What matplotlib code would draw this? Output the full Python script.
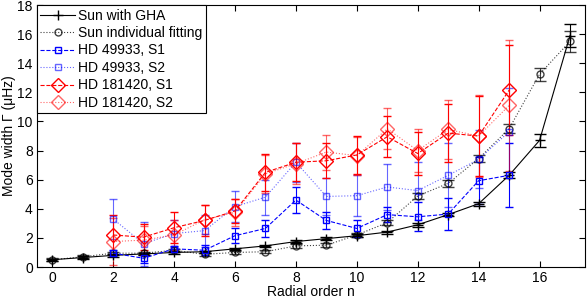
import numpy as np
import matplotlib
matplotlib.use("Agg")
import matplotlib.pyplot as plt

plt.rcParams['font.family'] = ['Liberation Sans', 'DejaVu Sans']
plt.rcParams['font.size'] = 10

# Sun, global helioseismic analysis (n = 0..17)
n_sun = np.arange(0, 18)
sun_gha = [0.5, 0.65, 0.8, 0.9, 1.0, 1.05, 1.25, 1.45, 1.75, 1.95,
           2.15, 2.4, 2.9, 3.6, 4.35, 6.3, 8.7, 15.9]
sun_gha_err = [0.08, 0.08, 0.08, 0.08, 0.08, 0.08, 0.08, 0.08, 0.1, 0.1,
               0.1, 0.1, 0.12, 0.12, 0.15, 0.2, 0.45, 0.8]
# Sun, individual fitting
sun_ind = [0.5, 0.7, 0.95, 0.95, 1.15, 0.87, 1.0, 1.05, 1.45, 1.5,
           2.2, 3.05, 4.88, 5.75, 7.45, 9.5, 13.25, 15.5]
sun_ind_err = [0.1, 0.1, 0.1, 0.1, 0.1, 0.1, 0.1, 0.1, 0.12, 0.12,
               0.12, 0.15, 0.2, 0.22, 0.25, 0.3, 0.45, 0.7]

# stars (n = 2..15)
n_star = np.arange(2, 16)
hd49933_s1 = [0.95, 0.6, 1.25, 1.15, 2.15, 2.65, 4.6, 3.2, 2.65, 3.6, 3.45, 3.64, 5.93, 6.3]
hd49933_s1_err = [0.2, 0.35, 0.2, 0.35, 0.5, 0.6, 0.9, 0.6, 0.6, 0.5, 1.0, 1.1, 1.6, 2.2]
hd49933_s2 = [3.3, 1.6, 2.3, 2.5, 4.15, 4.8, 7.2, 4.85, 4.9, 5.5, 5.25, 6.3, 7.4, 9.3]
hd49933_s2_err = [1.35, 1.5, 0.9, 1.1, 1.05, 1.2, 1.35, 1.3, 1.4, 1.6, 2.0, 2.2, 2.0, 3.0]
hd181420_s1 = [2.2, 2.05, 2.7, 3.2, 3.85, 6.5, 7.2, 7.3, 7.7, 8.95, 7.8, 9.2, 9.0, 12.15]
hd181420_s1_err = [1.4, 0.9, 1.05, 1.05, 0.85, 1.25, 1.3, 1.2, 1.3, 1.4, 1.5, 2.0, 2.75, 3.1]
hd181420_s2 = [1.75, 1.85, 2.2, 3.25, 3.75, 6.4, 7.1, 7.9, 7.65, 9.5, 8.0, 9.45, 9.0, 11.1]
hd181420_s2_err = [1.6, 1.0, 1.0, 1.0, 0.9, 1.3, 1.4, 1.2, 1.3, 1.4, 1.5, 2.0, 2.8, 4.5]

fig = plt.figure(figsize=(5.87, 2.98), dpi=100)
ax = fig.add_axes([0.063, 0.104, 0.934, 0.879])

lw = 0.8
conts = []
conts.append(ax.errorbar(n_sun, sun_gha, yerr=sun_gha_err, color='k', ls='-', marker='+',
                         ms=7, lw=lw, elinewidth=lw, capsize=4.5, label='Sun with GHA'))
conts.append(ax.errorbar(n_sun, sun_ind, yerr=sun_ind_err, color='k', ls=':', marker='o',
                         ms=5, mfc='none', lw=lw, elinewidth=lw, capsize=4.5, alpha=0.75,
                         label='Sun individual fitting'))
conts.append(ax.errorbar(n_star, hd49933_s1, yerr=hd49933_s1_err, color='b', ls='--', marker='s',
                         ms=5, mfc='none', lw=lw, elinewidth=lw, capsize=3, label='HD 49933, S1'))
conts.append(ax.errorbar(n_star, hd49933_s2, yerr=hd49933_s2_err, color='b', ls=':', marker='s',
                         ms=5, mfc='none', lw=lw, elinewidth=lw, capsize=3, alpha=0.6,
                         label='HD 49933, S2'))
conts.append(ax.errorbar(n_star, hd181420_s1, yerr=hd181420_s1_err, color='r', ls='--', marker='D',
                         ms=7, mfc='none', lw=lw, elinewidth=lw, capsize=3, label='HD 181420, S1'))
conts.append(ax.errorbar(n_star, hd181420_s2, yerr=hd181420_s2_err, color='r', ls=':', marker='D',
                         ms=7, mfc='none', lw=lw, elinewidth=lw, capsize=3, alpha=0.6,
                         label='HD 181420, S2'))

ax.set_xlim(-0.5, 17.5)
ax.set_ylim(0, 18)
ax.set_xticks(np.arange(0, 17, 2))
ax.set_yticks(np.arange(0, 19, 2))
ax.tick_params(direction='in', top=True, right=True, length=4, labelsize=10, pad=3)
ax.set_xlabel('Radial order n', labelpad=0)
ax.set_ylabel('Mode width Γ (μHz)', labelpad=1)

# legend shows only line + marker, no error bars
handles = [c.lines[0] for c in conts]
labels = [c.get_label() for c in conts]
leg = ax.legend(handles, labels, loc='upper left', fancybox=False, framealpha=1,
                edgecolor='k', borderaxespad=0, handlelength=2.5, handletextpad=0.2,
                labelspacing=0.25, borderpad=0.25, fontsize=10)
leg.get_frame().set_linewidth(0.8)
for sp in ax.spines.values():
    sp.set_linewidth(0.8)

fig.savefig('out.png', dpi=100)
